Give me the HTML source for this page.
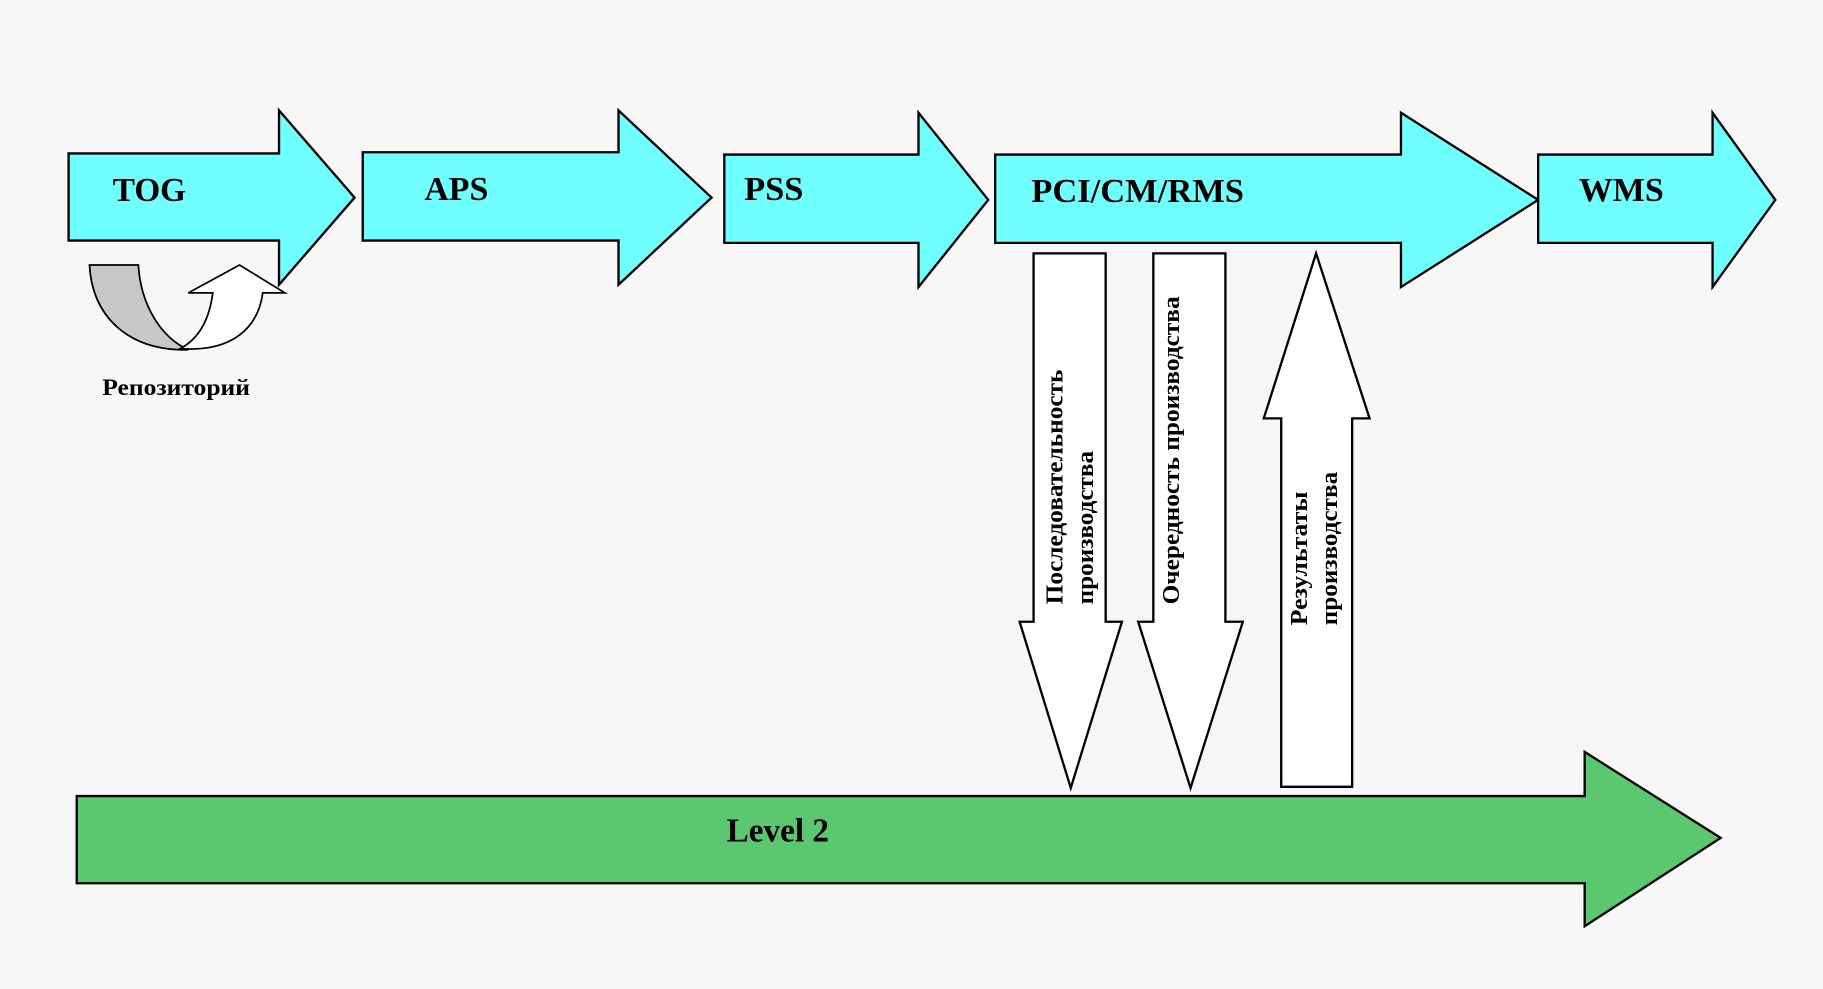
<!DOCTYPE html>
<html><head><meta charset="utf-8"><style>
html,body{margin:0;padding:0;background:#f7f7f7;}
svg{display:block;}
text{font-family:"Liberation Serif","DejaVu Serif",serif;font-weight:bold;fill:#000;}
</style></head><body>
<svg width="1823" height="989" viewBox="0 0 1568 851" preserveAspectRatio="none" xmlns="http://www.w3.org/2000/svg">
<rect width="1568" height="851" fill="#f7f7f7"/>
<g stroke="#000" stroke-width="2" fill="#70ffff" stroke-linejoin="miter">
<polygon points="59,132 240,132 240,95 305,170 240,245 240,207 59,207"/>
<polygon points="312,131 532,131 532,95 612,170 532,245 532,207 312,207"/>
<polygon points="623,133 790,133 790,97 850,172 790,247 790,209 623,209"/>
<polygon points="856,133 1205,133 1205,97 1323,172 1205,247 1205,209 856,209"/>
<polygon points="1323,133 1473,133 1473,97 1527,172 1473,247 1473,209 1323,209"/>
<polygon fill="#5bc870" points="66,685 1363,685 1363,647 1480,721 1363,797 1363,760 66,760"/>
<polygon fill="#fff" points="889,218 951,218 951,535 965,535 921,678 877,535 889,535"/>
<polygon fill="#fff" points="992,218 1054,218 1054,535 1069,535 1024,678 979,535 992,535"/>
<polygon fill="#fff" points="1102,677 1163,677 1163,360 1178,360 1132,218 1087,360 1102,360"/>
<path fill="#c8c8c8" stroke-width="1.5" d="M77,228 L119,228 C121,262 138,290 162,301 C110,302 79,272 77,228 Z"/>
<path fill="#fff" stroke-width="1.5" d="M155,300 C200,303 222,282 226,252 L245,252 L206,228 L162,252 L183,252 C180,276 170,292 155,300 Z"/>
</g>
<g font-size="29.5">
<text x="97" y="173" textLength="63" lengthAdjust="spacingAndGlyphs">TOG</text>
<text x="365" y="172" textLength="55" lengthAdjust="spacingAndGlyphs">APS</text>
<text x="640" y="172" textLength="51" lengthAdjust="spacingAndGlyphs">PSS</text>
<text x="887" y="174" textLength="183" lengthAdjust="spacingAndGlyphs">PCI/CM/RMS</text>
<text x="1358" y="173" textLength="73" lengthAdjust="spacingAndGlyphs">WMS</text>
<text x="625" y="724" textLength="88" lengthAdjust="spacingAndGlyphs">Level 2</text>
</g>
<text x="88" y="340" font-size="20" textLength="127" lengthAdjust="spacingAndGlyphs">Репозиторий</text>
<g font-size="21">
<text transform="translate(914,520) rotate(-90)" textLength="202" lengthAdjust="spacingAndGlyphs">Последовательность</text>
<text transform="translate(940,520) rotate(-90)" textLength="132" lengthAdjust="spacingAndGlyphs">производства</text>
<text transform="translate(1014,520) rotate(-90)" textLength="265" lengthAdjust="spacingAndGlyphs">Очередность производства</text>
<text transform="translate(1124,538) rotate(-90)" textLength="115" lengthAdjust="spacingAndGlyphs">Результаты</text>
<text transform="translate(1150,538) rotate(-90)" textLength="132" lengthAdjust="spacingAndGlyphs">производства</text>
</g>
</svg>
</body></html>
